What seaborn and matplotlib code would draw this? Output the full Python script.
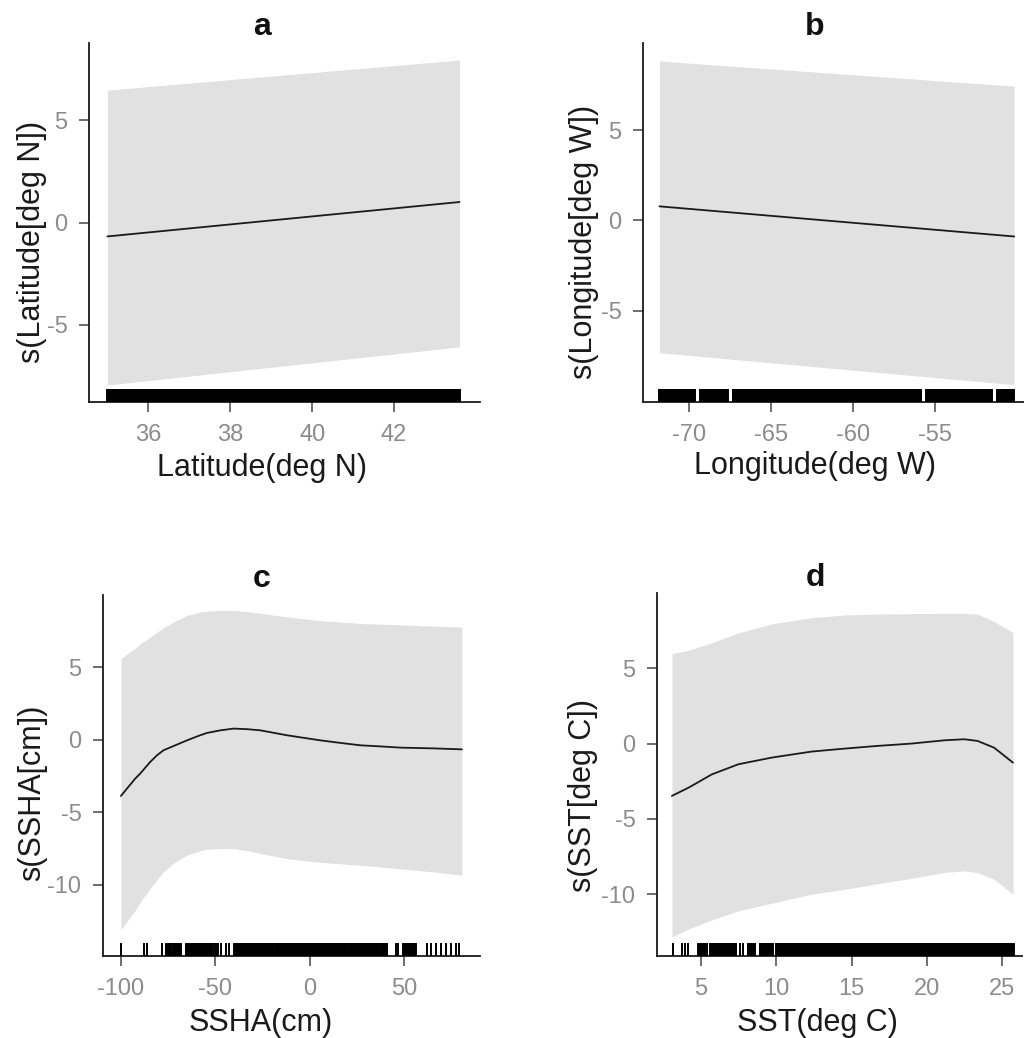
import numpy as np
import pandas as pd
import seaborn as sns
import matplotlib.pyplot as plt

sns.set_theme(style="ticks")
plt.rcParams['font.family'] = ['Liberation Sans', 'DejaVu Sans']
plt.rcParams['axes.unicode_minus'] = False

# ---------------- Panel a: Latitude ----------------
lat_x = [35.0, 43.6]
lat_fit = [-0.68, 1.0]
lat_upper = [6.46, 7.93]
lat_lower = [-7.93, -6.07]
lat_rug_ticks = []
lat_rug_blocks = [(35.0, 43.6)]

# ---------------- Panel b: Longitude ----------------
lon_x = [-71.8, -50.2]
lon_fit = [0.78, -0.89]
lon_upper = [8.83, 7.44]
lon_lower = [-7.33, -9.1]
lon_rug_ticks = []
lon_rug_blocks = [(-71.8, -69.65), (-69.35, -67.65), (-67.35, -55.85), (-55.55, -51.55), (-51.25, -50.2)]

# ---------------- Panel c: SSHA ----------------
ssha_x = [-100, -96.8, -92.4, -89.8, -84.5, -80.9, -77.4, -72.1, -65, -58, -54.4, -47.3,
          -40.3, -33, -26.1, -12, 5.7, 16, 26.9, 38, 48, 65, 80.7]
ssha_fit = [-3.88, -3.37, -2.68, -2.34, -1.54, -1.08, -0.73, -0.44, -0.05, 0.3, 0.46, 0.64,
            0.76, 0.72, 0.64, 0.3, -0.05, -0.22, -0.39, -0.47, -0.55, -0.6, -0.67]
ssha_upper = [5.57, 5.9, 6.3, 6.6, 7.06, 7.4, 7.7, 8.1, 8.56, 8.78, 8.85, 8.9,
              8.9, 8.82, 8.7, 8.45, 8.2, 8.1, 8.0, 7.95, 7.9, 7.82, 7.75]
ssha_lower = [-13.1, -12.5, -11.75, -11.2, -10.25, -9.65, -9.1, -8.5, -7.96, -7.65, -7.55, -7.5,
              -7.5, -7.65, -7.84, -8.2, -8.45, -8.55, -8.65, -8.78, -8.9, -9.1, -9.33]
ssha_rug_ticks = [-100.2, -87.8, -86.4, -78.4, -50.7, -49.8, -48.6, -47.2, -44.5, -42.8,
                  -40.1, 45.6, 46.6, 62.4, 64.1, 66.8, 69.4, 72.1, 74.7, 77.4, 79.1]
ssha_rug_blocks = [(-76.3, -73.3), (-72.2, -68.4), (-65.7, -51.6), (-39.2, -19.1),
                   (-18.0, 20.0), (20.7, 36.6), (37.6, 40.8), (49.6, 56.2)]

# ---------------- Panel d: SST ----------------
sst_x = [3.08, 4.19, 5.73, 7.49, 9.69, 12.33, 14.54, 16.74, 18.94, 21.15, 22.47, 23.35, 24.45, 25.7]
sst_fit = [-3.47, -2.92, -2.04, -1.37, -0.93, -0.53, -0.33, -0.15, 0.0, 0.22, 0.29, 0.18, -0.27, -1.26]
sst_upper = [5.97, 6.2, 6.7, 7.35, 7.95, 8.36, 8.54, 8.6, 8.63, 8.65, 8.65, 8.6, 8.1, 7.37]
sst_lower = [-12.83, -12.3, -11.7, -11.1, -10.6, -10.0, -9.67, -9.3, -8.95, -8.55, -8.45, -8.56, -9.0, -10.0]
sst_rug_ticks = [3.17, 3.73, 3.94, 4.16, 5.38, 5.6, 7.58, 7.8, 8.45]
sst_rug_blocks = [(4.82, 5.26), (5.7, 6.04), (6.14, 7.36), (8.1, 8.6), (8.9, 9.78), (10.0, 25.74)]

W, H = 1024, 1038
fig = plt.figure(figsize=(W / 100, H / 100), dpi=100)

panels = [
    dict(title="a", box=(89, 43, 480, 402), xlim=(34.55, 44.1), ylim=(-8.76, 8.76),
         xticks=[36, 38, 40, 42], yticks=[-5, 0, 5],
         x=lat_x, fit=lat_fit, up=lat_upper, lo=lat_lower,
         rt=lat_rug_ticks, rb=lat_rug_blocks,
         xlabel="Latitude(deg N)", ylabel="s(Latitude[deg N])",
         title_pos=(262, 27), xl_pos=(262, 468), yl_pos=(32, 242)),
    dict(title="b", box=(643, 43, 1024, 402), xlim=(-72.8, -49.6), ylim=(-10.06, 9.83),
         xticks=[-70, -65, -60, -55], yticks=[-5, 0, 5],
         x=lon_x, fit=lon_fit, up=lon_upper, lo=lon_lower,
         rt=lon_rug_ticks, rb=lon_rug_blocks,
         xlabel="Longitude(deg W)", ylabel="s(Longitude[deg W])",
         title_pos=(815, 27), xl_pos=(815, 466), yl_pos=(584, 242)),
    dict(title="c", box=(103, 595, 480, 956), xlim=(-109.5, 90.3), ylim=(-14.9, 9.96),
         xticks=[-100, -50, 0, 50], yticks=[-10, -5, 0, 5],
         x=ssha_x, fit=ssha_fit, up=ssha_upper, lo=ssha_lower,
         rt=ssha_rug_ticks, rb=ssha_rug_blocks,
         xlabel="SSHA(cm)", ylabel="s(SSHA[cm])",
         title_pos=(262, 579), xl_pos=(261, 1023), yl_pos=(32, 793)),
    dict(title="d", box=(657, 593, 1022, 956), xlim=(2.09, 26.3), ylim=(-14.1, 10.0),
         xticks=[5, 10, 15, 20, 25], yticks=[-10, -5, 0, 5],
         x=sst_x, fit=sst_fit, up=sst_upper, lo=sst_lower,
         rt=sst_rug_ticks, rb=sst_rug_blocks,
         xlabel="SST(deg C)", ylabel="s(SST[deg C])",
         title_pos=(815, 578), xl_pos=(817, 1023), yl_pos=(583, 795)),
]

tick_grey = "#8c8c8c"
band_col = "#e1e1e1"

for p in panels:
    l, t, r, b = p["box"]
    ax = fig.add_axes([l / W, 1 - b / H, (r - l) / W, (b - t) / H])
    ax.set_xlim(*p["xlim"])
    ax.set_ylim(*p["ylim"])

    ax.fill_between(p["x"], p["lo"], p["up"], color=band_col, linewidth=0, zorder=1)
    sns.lineplot(x=p["x"], y=p["fit"], ax=ax, color="#1a1a1a", linewidth=1.3, zorder=3)

    # rug: isolated observations plus dense runs of observations
    step = (p["xlim"][1] - p["xlim"][0]) / 450.0
    rug = list(p["rt"])
    for a0, a1 in p["rb"]:
        n = max(2, int(round((a1 - a0) / step)) + 1)
        rug.extend(np.linspace(a0, a1, n))
    sns.rugplot(x=rug, ax=ax, height=0.036, color="black", linewidth=1.4,
                expand_margins=False, zorder=4)

    ax.set_xlim(*p["xlim"])
    ax.set_ylim(*p["ylim"])
    ax.set_xticks(p["xticks"])
    ax.set_yticks(p["yticks"])
    ax.set_xticklabels([str(v) for v in p["xticks"]])
    ax.set_yticklabels([str(v) for v in p["yticks"]])
    ax.tick_params(axis="both", labelsize=17, labelcolor=tick_grey, color="#555555",
                   length=7.5, width=1.2, pad=8, direction="out")

    for s in ["top", "right"]:
        ax.spines[s].set_visible(False)
    for s in ["left", "bottom"]:
        ax.spines[s].set_color("#1a1a1a")
        ax.spines[s].set_linewidth(1.3)

    ax.set_xlabel("")
    ax.set_ylabel("")
    tx, ty = p["title_pos"]
    fig.text(tx / W, 1 - ty / H, p["title"], ha="center", va="center",
             fontsize=23, fontweight="bold", color="#111111")
    xx, xy = p["xl_pos"]
    fig.text(xx / W, 1 - xy / H, p["xlabel"], ha="center", va="center",
             fontsize=22, color="#1a1a1a")
    yx, yy = p["yl_pos"]
    fig.text(yx / W, 1 - yy / H, p["ylabel"], ha="center", va="center",
             fontsize=22, color="#1a1a1a", rotation=90)

fig.savefig("out.png", dpi=100, facecolor="white")
